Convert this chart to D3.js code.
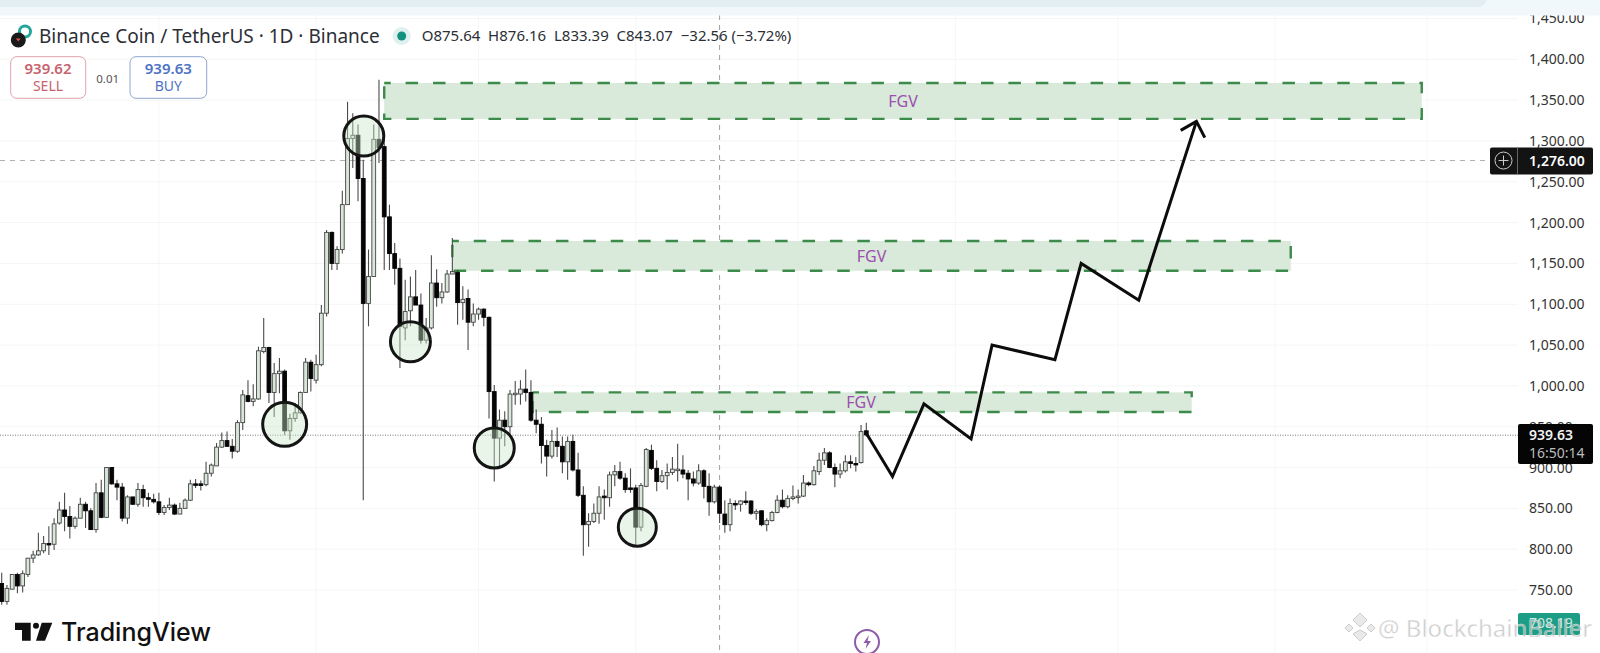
<!DOCTYPE html>
<html>
<head>
<meta charset="utf-8">
<style>
	html, body { margin: 0; padding: 0; background: #fff; overflow: hidden; }
	svg { display: block; }
	text { font-family: "Noto Sans", sans-serif; white-space: pre; }
</style>
</head>
<body>
<svg width="1600" height="653"></svg>
<script src="https://d3js.org/d3.v7.min.js"></script>
<script>
	// daily candles
	var opens = [
		758,736,751,769,755,769,789,793,798,807,
		806,832,848,840,828,838,855,847,824,869,
		839,900,880,876,838,864,855,873,863,861,
		858,845,851,854,843,850,860,880,880,879,
		893,902,925,933,926,920,955,988,981,984,
		1042,1047,992,1015,1018,945,960,967,992,1029,
		1007,1026,1089,1188,1150,1167,1222,1303,1307,1254,
		1101,1134,1302,1293,1207,1162,1144,1071,1092,1109,
		1099,1056,1071,1126,1108,1115,1137,1139,1102,1107,
		1078,1088,1094,1084,993,936,958,950,990,990,
		996,992,958,953,927,914,932,926,907,932,
		897,866,830,834,844,865,863,891,895,887,
		875,875,827,877,921,899,883,890,894,897,
		897,893,886,881,896,877,858,876,843,830,
		856,855,859,859,844,847,830,835,845,860,
		852,862,864,865,881,879,895,909,918,900,
		892,896,907,905,906,945
	];
	var highs = [
		771,756,769,771,774,789,798,820,816,828,
		838,858,869,853,840,863,858,850,881,885,
		900,900,885,881,866,864,881,879,869,868,
		869,854,863,856,857,862,885,886,884,907,
		905,930,943,944,935,958,995,1007,1002,1048,
		1083,1048,1028,1034,1020,966,979,993,1034,1032,
		1038,1099,1191,1189,1171,1239,1348,1334,1320,1277,
		1167,1320,1375,1305,1222,1175,1156,1130,1134,1142,
		1113,1083,1160,1143,1126,1142,1181,1142,1122,1118,
		1101,1096,1095,1085,1001,971,969,995,1006,1007,
		1020,1007,971,962,934,946,949,938,938,940,
		918,877,844,856,877,873,895,903,907,893,
		899,879,881,924,928,909,897,905,913,929,
		915,897,895,904,898,893,879,878,860,862,
		860,860,871,860,849,848,838,847,866,873,
		866,878,873,891,883,902,918,924,920,905,
		905,915,915,913,952,955
	];
	var lows = [
		732,732,751,746,747,766,783,792,795,793,
		799,830,822,813,825,838,826,824,820,838,
		839,879,860,834,831,854,852,852,852,856,
		842,842,848,842,843,850,859,875,872,877,
		889,902,924,925,911,918,946,980,975,983,
		1040,979,962,991,940,934,956,966,992,993,
		1003,1024,1085,1142,1142,1162,1222,1267,1226,860,
		1073,1134,1273,1142,1142,1124,1022,1056,1073,1099,
		1052,1052,1069,1097,1101,1114,1138,1075,1081,1044,
		1073,1081,1073,960,883,901,926,938,977,977,
		981,956,942,905,889,911,913,893,885,895,
		864,792,803,832,831,836,852,877,885,869,
		869,805,822,876,897,871,881,873,891,883,
		887,860,877,879,862,841,856,832,820,822,
		848,846,854,842,836,828,822,834,844,850,
		850,860,856,864,877,878,891,903,899,876,
		887,894,899,895,905,938
	];
	var closes = [
		736,752,769,755,770,789,793,798,807,806,
		831,848,840,828,838,855,847,824,869,839,
		900,880,876,838,864,855,873,863,862,858,
		845,851,854,843,850,860,880,879,878,893,
		903,925,933,926,920,955,989,981,984,1043,
		1047,992,1015,1018,945,960,967,992,1029,1009,
		1026,1089,1188,1150,1167,1222,1303,1307,1254,1101,
		1134,1302,1292,1207,1162,1144,1073,1091,1109,1099,
		1056,1071,1126,1108,1115,1137,1140,1102,1106,1078,
		1088,1094,1084,993,936,958,950,990,991,996,
		992,958,953,927,914,932,926,907,932,897,
		866,830,834,844,864,863,891,895,887,873,
		873,827,878,922,899,883,890,894,898,898,
		892,886,881,896,877,858,876,844,830,856,
		855,859,858,844,846,830,835,845,860,852,
		862,864,865,881,879,896,909,918,900,892,
		896,907,905,904,944,940
	];

	var priceTicks = [1450,1400,1350,1300,1250,1200,1150,1100,1050,1000,950,900,850,800,750];
	var monthTicks = [30,60,91,121,152,182,213,243,272];

	// FGV boxes
	var zoneStart = [73,86,101.3];
	var zoneEnd = [271,246,227.1];
	var zoneTop = [1371,1177.5,992];
	var zoneBottom = [1327,1141,968];
	var zoneLabelAt = [172,166,164];
	var zoneLabel = ["FGV","FGV","FGV"];

	// circled spots
	var circleAt = [54,69.1,78,94,121.3];
	var circlePrice = [953,1306,1054,924,827];
	var circleR = [22,20,20,20,19];

	// projected path
	var pathAt = [165,170,176,185,189,201,206,217,228];
	var pathPrice = [942,889,978,935,1050,1032,1150,1105,1324];
	var arrowAt = [225,228,229.6];
	var arrowPrice = [1313,1324,1304];

	var lastPrice = 939.63;
	var crossPrice = 1276;
	var crossAt = 137;

	var svg = d3.select("svg");
	var x = d3.scaleLinear().domain([0,165]).range([1.7,866.3]);
	var y = d3.scaleLinear().domain([750,1400]).range([590,59.3]);
	var paneRight = 1518;
	var bodyW = 3.8;
	var fmt = d3.format(",.2f");

	// grid
	svg.append("g").selectAll("line").data(priceTicks).join("line")
		.attr("x1", 0).attr("x2", paneRight)
		.attr("y1", function(d) { return y(d); }).attr("y2", function(d) { return y(d); })
		.attr("stroke", "#f4f5f5");
	svg.append("g").selectAll("line").data(monthTicks).join("line")
		.attr("x1", function(d) { return x(d); }).attr("x2", function(d) { return x(d); })
		.attr("y1", 15).attr("y2", 653)
		.attr("stroke", "#f6f6f6");

	// crosshair and last price line
	svg.append("line").attr("x1", x(crossAt)).attr("x2", x(crossAt)).attr("y1", 15).attr("y2", 653)
		.attr("stroke", "#a0a0a0").attr("stroke-dasharray", "5 5");
	svg.append("line").attr("x1", 0).attr("x2", 1490).attr("y1", y(crossPrice)).attr("y2", y(crossPrice))
		.attr("stroke", "#b0b0b0").attr("stroke-dasharray", "5 5");
	svg.append("line").attr("x1", 0).attr("x2", paneRight).attr("y1", y(lastPrice)).attr("y2", y(lastPrice))
		.attr("stroke", "#777").attr("stroke-dasharray", "1 1.5");

	// zones
	var zones = svg.append("g").selectAll("g").data(zoneStart).join("g");
	zones.append("rect")
		.attr("x", function(d, i) { return x(d); })
		.attr("y", function(d, i) { return y(zoneTop[i]); })
		.attr("width", function(d, i) { return x(zoneEnd[i]) - x(d); })
		.attr("height", function(d, i) { return y(zoneBottom[i]) - y(zoneTop[i]); })
		.attr("fill", "#d9e9da")
		.attr("stroke", "#3d8b4a")
		.attr("stroke-width", 2.4)
		.attr("stroke-dasharray", "12.5 14.9")
		.attr("stroke-dashoffset", 6);
	zones.append("text")
		.attr("x", function(d, i) { return x(zoneLabelAt[i]); })
		.attr("y", function(d, i) { return y((zoneTop[i] + zoneBottom[i]) / 2); })
		.attr("dy", "0.36em")
		.attr("text-anchor", "middle")
		.attr("font-size", 16)
		.attr("fill", "#9c4fae")
		.text(function(d, i) { return zoneLabel[i]; });

	// candles
	var candles = svg.append("g").selectAll("g").data(opens).join("g");
	candles.append("line")
		.attr("x1", function(d, i) { return x(i); }).attr("x2", function(d, i) { return x(i); })
		.attr("y1", function(d, i) { return y(highs[i]); }).attr("y2", function(d, i) { return y(lows[i]); })
		.attr("stroke", "#4a4a4a").attr("stroke-width", 1.1);
	candles.append("rect")
		.attr("x", function(d, i) { return x(i) - bodyW / 2; })
		.attr("width", bodyW)
		.attr("y", function(d, i) { return y(Math.max(d, closes[i])); })
		.attr("height", function(d, i) { return Math.max(1.5, Math.abs(y(d) - y(closes[i]))); })
		.attr("fill", function(d, i) { return closes[i] < d ? "#050505" : "#d9e6da"; })
		.attr("stroke", function(d, i) { return closes[i] < d ? "#050505" : "#444"; })
		.attr("stroke-width", 0.9);

	// circles
	svg.append("g").selectAll("circle").data(circleAt).join("circle")
		.attr("cx", function(d) { return x(d); })
		.attr("cy", function(d, i) { return y(circlePrice[i]); })
		.attr("r", function(d, i) { return circleR[i]; })
		.attr("fill", "#c8e6c9").attr("fill-opacity", 0.42)
		.attr("stroke", "#141414").attr("stroke-width", 3);

	// projected path
	var pathLine = d3.line()
		.x(function(d) { return x(d[0]); })
		.y(function(d) { return y(d[1]); });
	svg.append("path")
		.attr("d", pathLine(d3.zip(pathAt, pathPrice)))
		.attr("fill", "none").attr("stroke", "#0c0c0c").attr("stroke-width", 3);
	svg.append("path")
		.attr("d", pathLine(d3.zip(arrowAt, arrowPrice)))
		.attr("fill", "none").attr("stroke", "#0c0c0c").attr("stroke-width", 3);

	// price axis
	var axis = svg.append("g")
		.attr("transform", "translate(1529,0)")
		.call(d3.axisRight(y).tickValues(priceTicks).tickSize(0).tickPadding(0).tickFormat(fmt));
	axis.select(".domain").remove();
	axis.selectAll("text").attr("font-size", 14).attr("font-family", "Noto Sans").attr("fill", "#333");

	// top strip
	svg.append("rect").attr("x", 0).attr("y", 0).attr("width", 1600).attr("height", 15.5).attr("fill", "#f0f8fb");
	svg.append("rect").attr("x", -20).attr("y", -14).attr("width", 1507).attr("height", 21).attr("rx", 9).attr("fill", "#e2eef2");

	// crosshair tag
	svg.append("rect").attr("x", 1490).attr("y", y(crossPrice) - 13).attr("width", 103).attr("height", 27).attr("rx", 2).attr("fill", "#131313");
	svg.append("line").attr("x1", 1517.5).attr("x2", 1517.5).attr("y1", y(crossPrice) - 13).attr("y2", y(crossPrice) + 14).attr("stroke", "#666");
	svg.append("circle").attr("cx", 1503.5).attr("cy", y(crossPrice)).attr("r", 8.5).attr("fill", "none").attr("stroke", "#ccc");
	svg.append("path").attr("d", "M1498.5," + y(crossPrice) + "h10M1503.5," + (y(crossPrice) - 5) + "v10").attr("stroke", "#ccc");
	svg.append("text").attr("x", 1529).attr("y", y(crossPrice)).attr("dy", "0.36em")
		.attr("font-size", 14).attr("font-weight", 600).attr("fill", "#fff").text(fmt(crossPrice));

	// last price tag
	svg.append("rect").attr("x", 1518).attr("y", 424).attr("width", 75).attr("height", 40).attr("rx", 2).attr("fill", "#050505");
	svg.append("text").attr("x", 1529).attr("y", 440).attr("font-size", 14).attr("font-weight", 600).attr("fill", "#f2f2f2").text(fmt(lastPrice));
	svg.append("text").attr("x", 1529).attr("y", 458).attr("font-size", 14).attr("fill", "#bdbdbd").text("16:50:14");

	// low price tag at the bottom
	svg.append("rect").attr("x", 1518).attr("y", 613).attr("width", 62).attr("height", 22).attr("rx", 2).attr("fill", "#1d9d85");
	svg.append("text").attr("x", 1529).attr("y", 628).attr("font-size", 14).attr("fill", "#cfe9e3").text("708.19");

	// header
	svg.append("circle").attr("cx", 25).attr("cy", 31.5).attr("r", 5.5).attr("fill", "none").attr("stroke", "#26a69a").attr("stroke-width", 3);
	svg.append("circle").attr("cx", 18.3).attr("cy", 40).attr("r", 7.5).attr("fill", "#1a1a1a");
	svg.append("path").attr("d", "M15.8,38.5h5l-2.5,3z").attr("fill", "#d9534f");
	svg.append("text").attr("x", 39).attr("y", 43).attr("font-size", 19).attr("fill", "#2c2f36")
		.text("Binance Coin / TetherUS · 1D · Binance");
	svg.append("circle").attr("cx", 401.7).attr("cy", 36).attr("r", 9).attr("fill", "#dff1ef");
	svg.append("circle").attr("cx", 401.7).attr("cy", 36).attr("r", 4.5).attr("fill", "#12917f");
	svg.append("text").attr("x", 421.7).attr("y", 41).attr("font-size", 15).attr("fill", "#2c2f36")
		.text("O875.64  H876.16  L833.39  C843.07  −32.56 (−3.72%)");

	// buy and sell buttons
	svg.append("rect").attr("x", 10.7).attr("y", 56.7).attr("width", 75).attr("height", 41.6).attr("rx", 6).attr("fill", "#fff").attr("stroke", "#e2a0a8");
	svg.append("text").attr("x", 48).attr("y", 74).attr("text-anchor", "middle").attr("font-size", 15).attr("font-weight", 600).attr("fill", "#c8636e").text("939.62");
	svg.append("text").attr("x", 48).attr("y", 91).attr("text-anchor", "middle").attr("font-size", 14).attr("fill", "#c8636e").text("SELL");
	svg.append("text").attr("x", 107.7).attr("y", 82.5).attr("text-anchor", "middle").attr("font-size", 11.5).attr("fill", "#555").text("0.01");
	svg.append("rect").attr("x", 130).attr("y", 56.7).attr("width", 76.7).attr("height", 41.6).attr("rx", 6).attr("fill", "#fff").attr("stroke", "#8fa6cc");
	svg.append("text").attr("x", 168.3).attr("y", 74).attr("text-anchor", "middle").attr("font-size", 15).attr("font-weight", 600).attr("fill", "#4e73c5").text("939.63");
	svg.append("text").attr("x", 168.3).attr("y", 91).attr("text-anchor", "middle").attr("font-size", 14).attr("fill", "#4e73c5").text("BUY");

	// TradingView mark
	svg.append("path").attr("d", "M15,622.7H30.7V640.7H22V630H15Z").attr("fill", "#111");
	svg.append("circle").attr("cx", 36).attr("cy", 625.7).attr("r", 3).attr("fill", "#111");
	svg.append("path").attr("d", "M41.7,622.7H52.3L45,640.7H36Z").attr("fill", "#111");
	svg.append("text").attr("x", 61).attr("y", 640.7).attr("font-size", 25).attr("font-weight", 500)
		.style("font-family", "Inter").attr("fill", "#111").text("TradingView");

	// lightning button
	svg.append("circle").attr("cx", 867).attr("cy", 642).attr("r", 12).attr("fill", "#fff").attr("stroke", "#8e5ba8").attr("stroke-width", 2);
	svg.append("path").attr("d", "M869,635L863.5,643H867L865.5,649L871,641H867.5Z").attr("fill", "#8e5ba8");

	// watermark
	var wm = svg.append("g").attr("opacity", 0.75);
	wm.append("path").attr("d", "M1360,613l7,7l-7,7l-7,-7zM1349,624l4,4l-4,4l-4,-4zM1371,624l4,4l-4,4l-4,-4zM1360,630l7,4l-7,7l-7,-7z")
		.attr("fill", "#e4e4e4").attr("stroke", "#bbb");
	wm.append("text").attr("x", 1378).attr("y", 636.7).attr("font-size", 24)
		.attr("fill", "#bdbdbd").attr("stroke", "#fff").attr("stroke-width", 0.4)
		.text("@ BlockchainBaller");
</script>
</body>
</html>
